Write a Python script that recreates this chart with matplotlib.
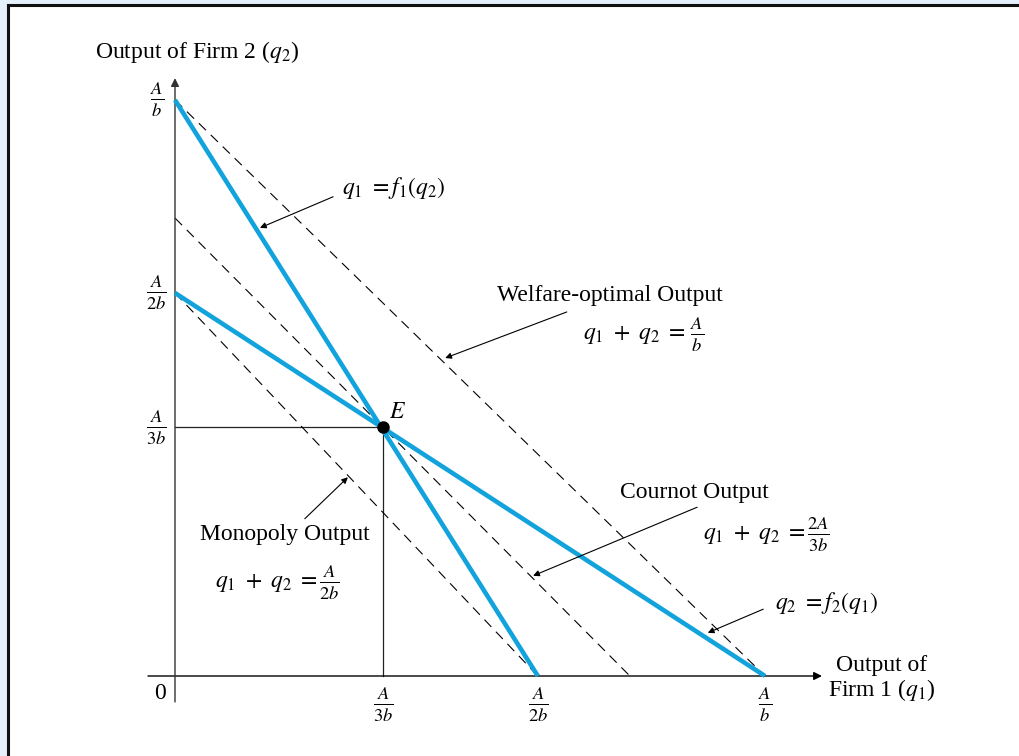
import matplotlib
matplotlib.use("Agg")
import matplotlib.pyplot as plt
from matplotlib.lines import Line2D
from matplotlib.patches import Rectangle

plt.rcParams["font.family"] = ["Liberation Serif", "DejaVu Serif"]
plt.rcParams["mathtext.fontset"] = "stix"

# Quantities in units of A/b (as laid out in the diagram)
q1_ticks = [0.353, 0.615, 1.0]
q1_tick_labels = [r"$\frac{A}{3b}$", r"$\frac{A}{2b}$", r"$\frac{A}{b}$"]
q2_ticks = [1.0, 0.665, 0.432]
q2_tick_labels = [r"$\frac{A}{b}$", r"$\frac{A}{2b}$", r"$\frac{A}{3b}$"]

# Reaction functions: (q2 intercept, q1 intercept)
reaction_f1 = (1.0, 0.615)
reaction_f2 = (0.665, 1.0)

# Iso-output lines q1 + q2 = const: (q2 intercept, q1 intercept)
welfare_line = (1.0, 1.0)
cournot_line = (0.795, 0.771)
monopoly_line = (0.665, 0.615)

# Cournot equilibrium E
eq_q1 = q1_ticks[0]
eq_q2 = q2_ticks[2]

BLUE = "#12a3dd"
FS = 17
FRAC_FS = 19

fig = plt.figure(figsize=(10.2, 7.56), dpi=100, facecolor="#e4f0fb")

# white panel with a dark frame on top/left
fig.patches.append(Rectangle((8 / 1020, 0), 1, 1 - 5 / 756, transform=fig.transFigure,
                             facecolor="white", edgecolor="none", zorder=-5))
fig.lines.append(Line2D([8 / 1020, 8 / 1020], [0, 1 - 5 / 756], transform=fig.transFigure,
                        color="#111111", lw=2.2, zorder=-4))
fig.lines.append(Line2D([8 / 1020, 1], [1 - 5 / 756, 1 - 5 / 756], transform=fig.transFigure,
                        color="#111111", lw=2.2, zorder=-4))

ax = fig.add_axes([0, 0, 1, 1])
ax.set_facecolor("none")
ax.set_xlim(-0.2966, 1.4322)
ax.set_ylim(-0.1389, 1.1736)
ax.axis("off")

# axes with arrow heads
ax.annotate("", xy=(1.0966, 0), xytext=(-0.0458, 0),
            arrowprops=dict(arrowstyle="-|>", color="black", lw=1.0, mutation_scale=12,
                            shrinkA=0, shrinkB=0))
ax.annotate("", xy=(0, 1.038), xytext=(0, -0.045),
            arrowprops=dict(arrowstyle="-|>", color="#333333", lw=1.0, mutation_scale=12,
                            shrinkA=0, shrinkB=0))

# dashed iso-output lines
for yi, xi in (welfare_line, cournot_line, monopoly_line):
    ax.plot([0, xi], [yi, 0], color="black", lw=0.8, ls=(0, (9, 6)), zorder=2)

# reaction functions
for yi, xi in (reaction_f1, reaction_f2):
    ax.plot([0, xi], [yi, 0], color=BLUE, lw=3.3, solid_capstyle="butt", zorder=3)

# guides to E
ax.plot([0, eq_q1], [eq_q2, eq_q2], color="#222222", lw=0.9, zorder=1)
ax.plot([eq_q1, eq_q1], [eq_q2, 0], color="#222222", lw=0.9, zorder=1)
ax.plot(eq_q1, eq_q2, "o", color="black", ms=8, zorder=4)
ax.text(eq_q1 + 0.009, eq_q2 + 0.008, "$E$", fontsize=FS, ha="left", va="bottom")

# tick labels
for x, lab in zip(q1_ticks, q1_tick_labels):
    ax.text(x, -0.05, lab, fontsize=FRAC_FS, ha="center", va="center")
for y, lab in zip(q2_ticks, q2_tick_labels):
    ax.text(-0.031, y, lab, fontsize=FRAC_FS, ha="center", va="center")
ax.text(-0.026, -0.031, "0", fontsize=FS, ha="center", va="center")

# axis titles
ax.text(-0.1356, 1.083, "Output of Firm 2 ($q_2$)", fontsize=FS, ha="left", va="center")
ax.text(1.198, 0.019, "Output of", fontsize=FS, ha="center", va="center")
ax.text(1.198, -0.024, "Firm 1 ($q_1$)", fontsize=FS, ha="center", va="center")

arrow_kw = dict(arrowstyle="-|>", color="black", lw=0.8, mutation_scale=9,
                shrinkA=0, shrinkB=0)


def equation(x, frac_x, y, frac):
    ax.text(x, y, r"$q_1\ +\ q_2\ =$", fontsize=FS, ha="left", va="center")
    ax.text(frac_x, y, frac, fontsize=FRAC_FS, ha="center", va="center")


# reaction function labels
ax.text(0.283, 0.847, r"$q_1\ = f_1(q_2)$", fontsize=FS, ha="left", va="center")
ax.annotate("", xy=(0.144, 0.778), xytext=(0.268, 0.832), arrowprops=arrow_kw)
ax.text(1.017, 0.127, r"$q_2\ = f_2(q_1)$", fontsize=FS, ha="left", va="center")
ax.annotate("", xy=(0.903, 0.075), xytext=(0.997, 0.116), arrowprops=arrow_kw)

# welfare-optimal output
ax.text(0.737, 0.661, "Welfare-optimal Output", fontsize=FS, ha="center", va="center")
equation(0.6915, 0.8847, 0.592, r"$\frac{A}{b}$")
ax.annotate("", xy=(0.458, 0.552), xytext=(0.664, 0.632), arrowprops=arrow_kw)

# Cournot output
ax.text(0.880, 0.319, "Cournot Output", fontsize=FS, ha="center", va="center")
equation(0.8949, 1.0898, 0.2448, r"$\frac{2A}{3b}$")
ax.annotate("", xy=(0.607, 0.174), xytext=(0.885, 0.293), arrowprops=arrow_kw)

# monopoly output
ax.text(0.186, 0.245, "Monopoly Output", fontsize=FS, ha="center", va="center")
equation(0.0678, 0.261, 0.1615, r"$\frac{A}{2b}$")
ax.annotate("", xy=(0.293, 0.345), xytext=(0.220, 0.273), arrowprops=arrow_kw)

fig.savefig("out.png", dpi=100, facecolor=fig.get_facecolor())
